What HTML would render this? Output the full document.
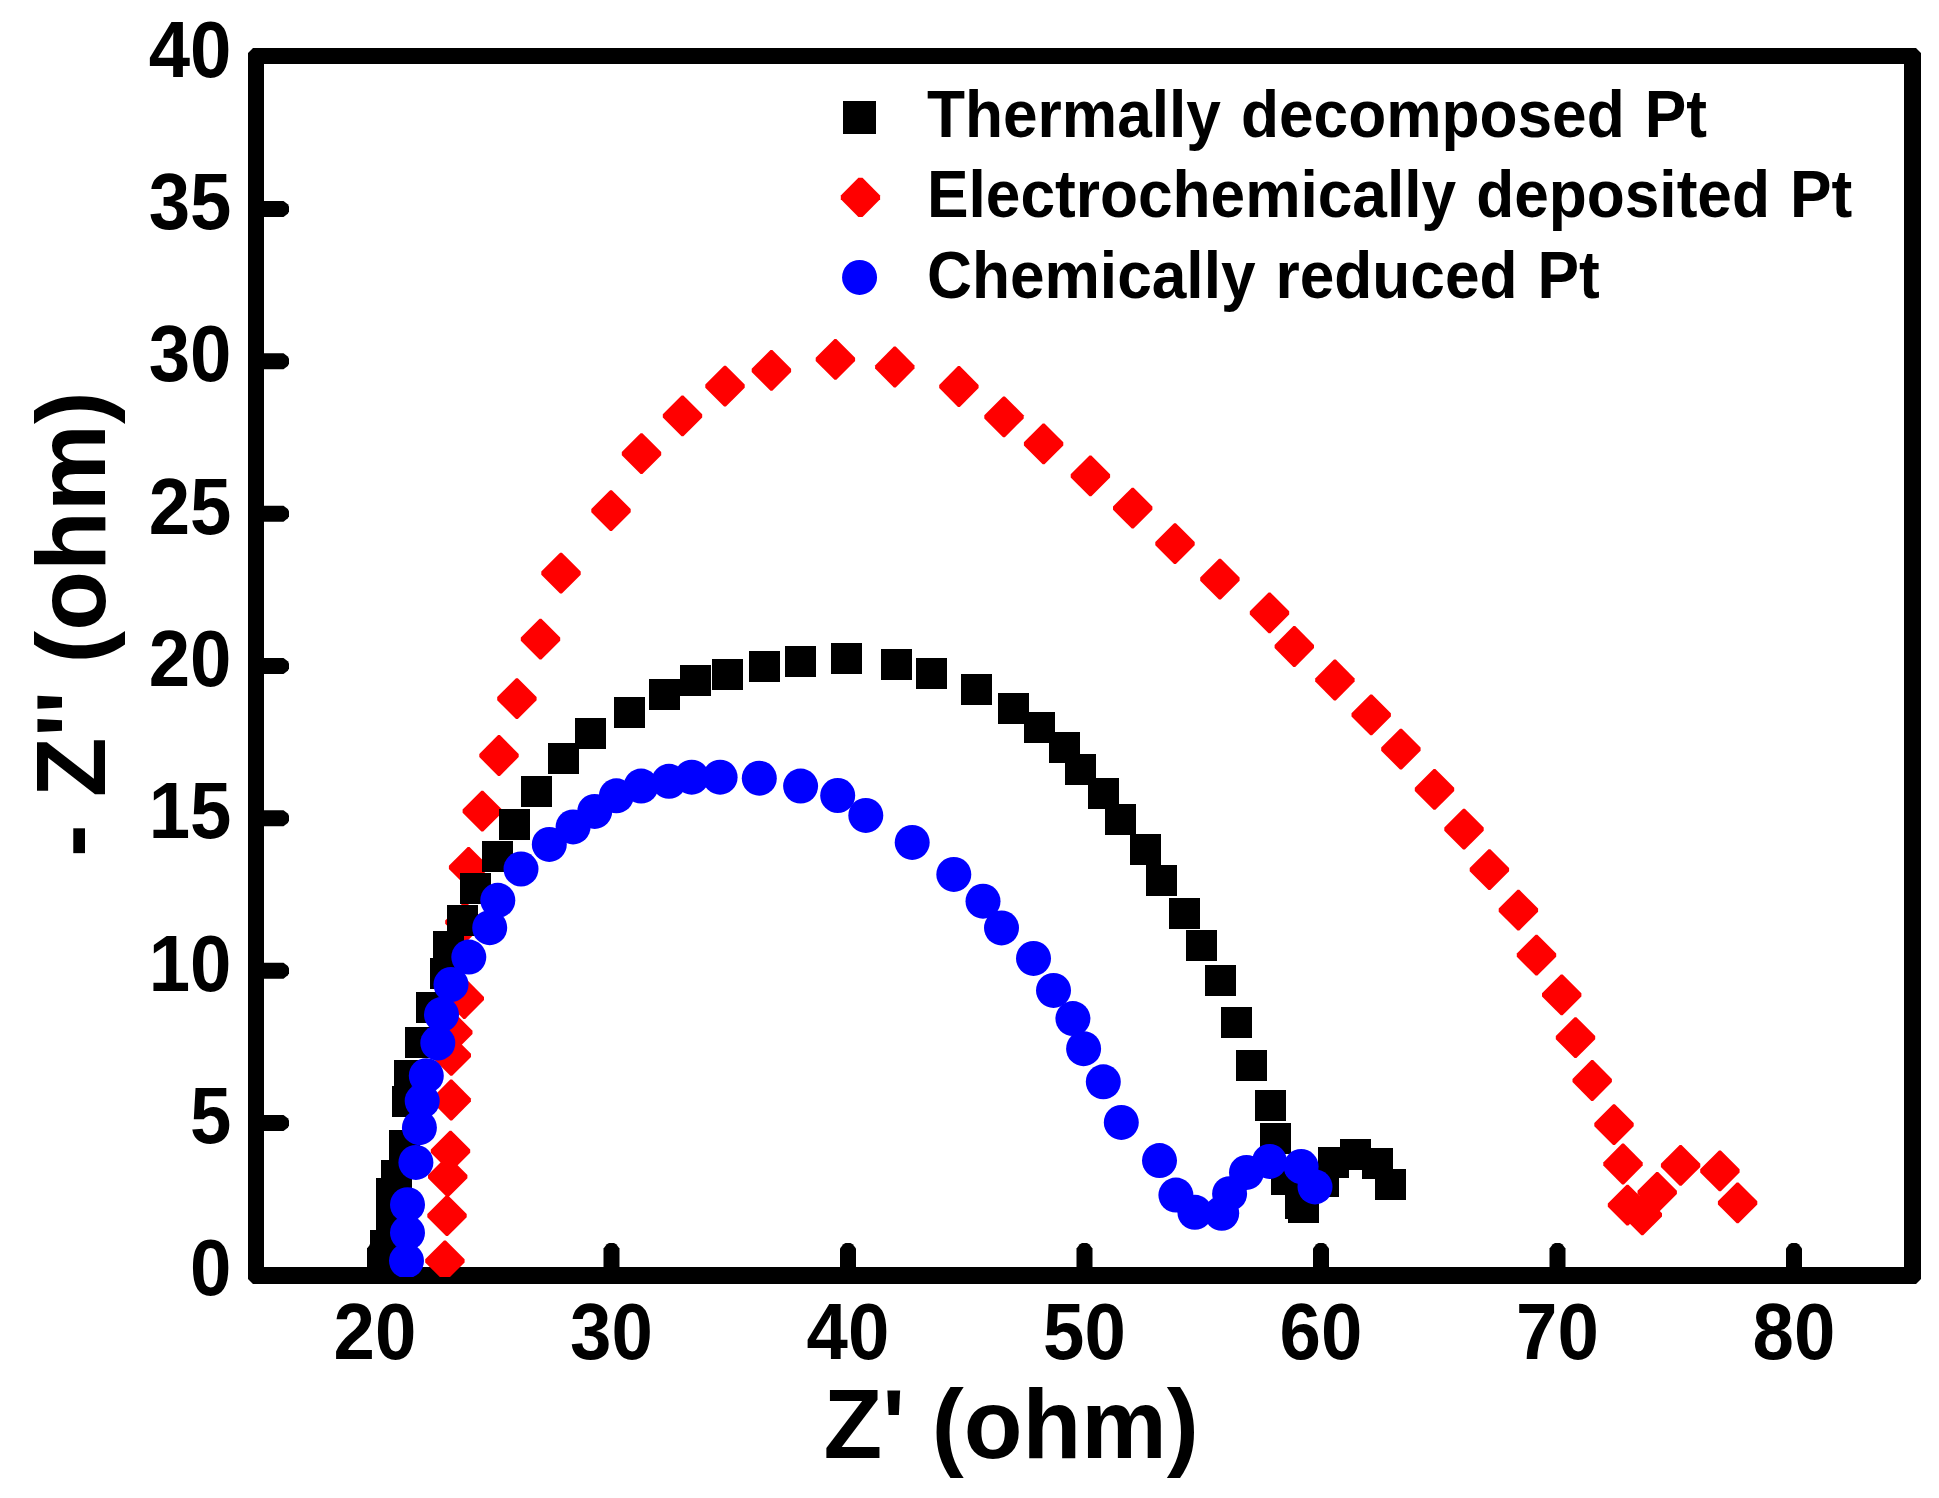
<!DOCTYPE html>
<html lang="en">
<head>
<meta charset="utf-8">
<title>Nyquist plot</title>
<style>
html,body{margin:0;padding:0;background:#fff;}
body{width:1939px;height:1498px;overflow:hidden;}
svg text{white-space:pre;}
</style>
</head>
<body>
<svg width="1939" height="1498" viewBox="0 0 1939 1498" style="display:block">
<rect x="0" y="0" width="1939" height="1498" fill="#fff"/>
<defs>
<clipPath id="plotclip"><rect x="256.0" y="56.1" width="1656.6" height="1220.9"/></clipPath>
<polygon id="dm" points="-0.90,-20.40 0.90,-20.40 19.70,-1.60 19.70,1.60 0.90,20.40 -0.90,20.40 -19.70,1.60 -19.70,-1.60"/>
<polygon id="dml" points="-2.05,-19.55 2.05,-19.55 19.65,-1.95 19.65,1.95 2.05,19.55 -2.05,19.55 -19.65,1.95 -19.65,-1.95"/>
</defs>
<path fill="#000" fill-rule="evenodd" d="M253,48 L1916,48 L1921,53 L1921,1279 L1916,1284 L253,1284 L248,1279 L248,53 Z M264,64 L264,1267 L1904,1267 L1904,64 Z"/>
<g fill="#000">
<polygon points="262,1114.99 283.5,1114.99 287.8,1118.29 289,1120.49 289,1125.49 287.8,1127.69 283.5,1130.99 262,1130.99"/>
<polygon points="262,962.66 283.5,962.66 287.8,965.96 289,968.16 289,973.16 287.8,975.36 283.5,978.66 262,978.66"/>
<polygon points="262,810.32 283.5,810.32 287.8,813.62 289,815.82 289,820.82 287.8,823.02 283.5,826.32 262,826.32"/>
<polygon points="262,657.99 283.5,657.99 287.8,661.29 289,663.49 289,668.49 287.8,670.69 283.5,673.99 262,673.99"/>
<polygon points="262,505.65 283.5,505.65 287.8,508.95 289,511.15 289,516.15 287.8,518.36 283.5,521.65 262,521.65"/>
<polygon points="262,353.32 283.5,353.32 287.8,356.62 289,358.82 289,363.82 287.8,366.02 283.5,369.32 262,369.32"/>
<polygon points="262,200.98 283.5,200.98 287.8,204.28 289,206.48 289,211.48 287.8,213.68 283.5,216.98 262,216.98"/>
<polygon points="367.00,1269 367.00,1248.5 370.30,1244.2 372.50,1243 377.50,1243 379.70,1244.2 383.00,1248.5 383.00,1269"/>
<polygon points="603.50,1269 603.50,1248.5 606.80,1244.2 609.00,1243 614.00,1243 616.20,1244.2 619.50,1248.5 619.50,1269"/>
<polygon points="840.00,1269 840.00,1248.5 843.30,1244.2 845.50,1243 850.50,1243 852.70,1244.2 856.00,1248.5 856.00,1269"/>
<polygon points="1076.50,1269 1076.50,1248.5 1079.80,1244.2 1082.00,1243 1087.00,1243 1089.20,1244.2 1092.50,1248.5 1092.50,1269"/>
<polygon points="1313.00,1269 1313.00,1248.5 1316.30,1244.2 1318.50,1243 1323.50,1243 1325.70,1244.2 1329.00,1248.5 1329.00,1269"/>
<polygon points="1549.50,1269 1549.50,1248.5 1552.80,1244.2 1555.00,1243 1560.00,1243 1562.20,1244.2 1565.50,1248.5 1565.50,1269"/>
<polygon points="1786.00,1269 1786.00,1248.5 1789.30,1244.2 1791.50,1243 1796.50,1243 1798.70,1244.2 1802.00,1248.5 1802.00,1269"/>
</g>
<g clip-path="url(#plotclip)">
<g fill="#f00">
<use href="#dm" x="444.9" y="1260.8"/>
<use href="#dm" x="447.0" y="1215.7"/>
<use href="#dm" x="447.7" y="1176.7"/>
<use href="#dm" x="450.5" y="1151.2"/>
<use href="#dm" x="451.2" y="1100.0"/>
<use href="#dm" x="451.3" y="1055.3"/>
<use href="#dm" x="452.8" y="1032.3"/>
<use href="#dm" x="464.3" y="998.5"/>
<use href="#dm" x="464.9" y="922.1"/>
<use href="#dm" x="468.6" y="867.3"/>
<use href="#dm" x="482.3" y="811.2"/>
<use href="#dm" x="499.0" y="755.5"/>
<use href="#dm" x="516.9" y="698.6"/>
<use href="#dm" x="540.5" y="639.2"/>
<use href="#dm" x="561.0" y="573.1"/>
<use href="#dm" x="611.0" y="510.6"/>
<use href="#dm" x="641.5" y="453.7"/>
<use href="#dm" x="682.5" y="415.9"/>
<use href="#dm" x="725.0" y="386.2"/>
<use href="#dm" x="771.4" y="370.3"/>
<use href="#dm" x="835.4" y="359.4"/>
<use href="#dm" x="894.8" y="367.0"/>
<use href="#dm" x="958.9" y="386.5"/>
<use href="#dm" x="1004.0" y="416.8"/>
<use href="#dm" x="1043.6" y="443.8"/>
<use href="#dm" x="1090.4" y="475.8"/>
<use href="#dm" x="1132.7" y="508.1"/>
<use href="#dm" x="1175.0" y="543.6"/>
<use href="#dm" x="1219.9" y="579.2"/>
<use href="#dm" x="1269.5" y="612.9"/>
<use href="#dm" x="1294.3" y="646.5"/>
<use href="#dm" x="1334.9" y="680.0"/>
<use href="#dm" x="1371.2" y="714.8"/>
<use href="#dm" x="1400.9" y="749.1"/>
<use href="#dm" x="1434.5" y="789.3"/>
<use href="#dm" x="1464.0" y="829.2"/>
<use href="#dm" x="1489.4" y="869.7"/>
<use href="#dm" x="1518.4" y="910.1"/>
<use href="#dm" x="1536.5" y="955.1"/>
<use href="#dm" x="1561.7" y="994.9"/>
<use href="#dm" x="1575.5" y="1037.6"/>
<use href="#dm" x="1592.2" y="1080.5"/>
<use href="#dm" x="1614.0" y="1124.6"/>
<use href="#dm" x="1623.0" y="1164.0"/>
<use href="#dm" x="1627.5" y="1205.2"/>
<use href="#dm" x="1642.3" y="1214.8"/>
<use href="#dm" x="1657.2" y="1192.4"/>
<use href="#dm" x="1680.6" y="1165.3"/>
<use href="#dm" x="1719.9" y="1170.9"/>
<use href="#dm" x="1737.6" y="1202.8"/>
</g>
<g fill="#000">
<rect x="367" y="1248" width="31" height="31"/>
<rect x="370" y="1230" width="31" height="31"/>
<rect x="376" y="1199" width="31" height="31"/>
<rect x="376" y="1178" width="31" height="31"/>
<rect x="381" y="1160" width="31" height="31"/>
<rect x="389" y="1130" width="31" height="31"/>
<rect x="392" y="1086" width="31" height="31"/>
<rect x="394" y="1060" width="31" height="31"/>
<rect x="405" y="1027" width="31" height="31"/>
<rect x="416" y="992" width="31" height="31"/>
<rect x="430" y="958" width="31" height="31"/>
<rect x="433" y="931" width="31" height="31"/>
<rect x="447" y="905" width="31" height="31"/>
<rect x="460" y="873" width="31" height="31"/>
<rect x="482" y="841" width="31" height="31"/>
<rect x="499" y="809" width="31" height="31"/>
<rect x="521" y="776" width="31" height="31"/>
<rect x="548" y="743" width="31" height="31"/>
<rect x="575" y="718" width="31" height="31"/>
<rect x="614" y="697" width="31" height="31"/>
<rect x="649" y="679" width="31" height="31"/>
<rect x="680" y="665" width="31" height="31"/>
<rect x="712" y="659" width="31" height="31"/>
<rect x="749" y="651" width="31" height="31"/>
<rect x="785" y="646" width="31" height="31"/>
<rect x="831" y="643" width="31" height="31"/>
<rect x="881" y="649" width="31" height="31"/>
<rect x="916" y="658" width="31" height="31"/>
<rect x="961" y="674" width="31" height="31"/>
<rect x="998" y="693" width="31" height="31"/>
<rect x="1024" y="712" width="31" height="31"/>
<rect x="1049" y="732" width="31" height="31"/>
<rect x="1065" y="754" width="31" height="31"/>
<rect x="1088" y="778" width="31" height="31"/>
<rect x="1105" y="804" width="31" height="31"/>
<rect x="1130" y="834" width="31" height="31"/>
<rect x="1146" y="865" width="31" height="31"/>
<rect x="1169" y="898" width="31" height="31"/>
<rect x="1186" y="930" width="31" height="31"/>
<rect x="1205" y="965" width="31" height="31"/>
<rect x="1221" y="1007" width="31" height="31"/>
<rect x="1236" y="1050" width="31" height="31"/>
<rect x="1255" y="1090" width="31" height="31"/>
<rect x="1260" y="1123" width="31" height="31"/>
<rect x="1271" y="1164" width="31" height="31"/>
<rect x="1285" y="1188" width="31" height="31"/>
<rect x="1288" y="1192" width="31" height="31"/>
<rect x="1308" y="1166" width="31" height="31"/>
<rect x="1318" y="1147" width="31" height="31"/>
<rect x="1340" y="1139" width="31" height="31"/>
<rect x="1362" y="1148" width="31" height="31"/>
<rect x="1375" y="1169" width="31" height="31"/>
</g>
<g fill="#00f">
<circle cx="406.5" cy="1260.8" r="17.5"/>
<circle cx="407.5" cy="1232.8" r="17.5"/>
<circle cx="407.5" cy="1204.7" r="17.5"/>
<circle cx="415.9" cy="1162.4" r="17.5"/>
<circle cx="419.4" cy="1127.7" r="17.5"/>
<circle cx="422.2" cy="1101.0" r="17.5"/>
<circle cx="426.3" cy="1075.7" r="17.5"/>
<circle cx="437.8" cy="1043.0" r="17.5"/>
<circle cx="441.5" cy="1014.6" r="17.5"/>
<circle cx="451.0" cy="984.5" r="17.5"/>
<circle cx="468.8" cy="957.1" r="17.5"/>
<circle cx="489.7" cy="927.7" r="17.5"/>
<circle cx="497.8" cy="900.3" r="17.5"/>
<circle cx="521.0" cy="869.0" r="17.5"/>
<circle cx="549.3" cy="844.4" r="17.5"/>
<circle cx="573.1" cy="826.9" r="17.5"/>
<circle cx="594.7" cy="811.4" r="17.5"/>
<circle cx="616.4" cy="795.8" r="17.5"/>
<circle cx="641.1" cy="786.1" r="17.5"/>
<circle cx="669.0" cy="781.3" r="17.5"/>
<circle cx="691.7" cy="777.2" r="17.5"/>
<circle cx="720.1" cy="777.2" r="17.5"/>
<circle cx="759.3" cy="778.2" r="17.5"/>
<circle cx="800.6" cy="786.1" r="17.5"/>
<circle cx="837.7" cy="795.5" r="17.5"/>
<circle cx="865.8" cy="815.4" r="17.5"/>
<circle cx="912.2" cy="842.4" r="17.5"/>
<circle cx="953.8" cy="874.4" r="17.5"/>
<circle cx="983.0" cy="901.2" r="17.5"/>
<circle cx="1001.5" cy="927.9" r="17.5"/>
<circle cx="1033.5" cy="958.4" r="17.5"/>
<circle cx="1053.5" cy="990.4" r="17.5"/>
<circle cx="1072.9" cy="1018.6" r="17.5"/>
<circle cx="1083.6" cy="1048.7" r="17.5"/>
<circle cx="1103.3" cy="1081.8" r="17.5"/>
<circle cx="1121.3" cy="1122.4" r="17.5"/>
<circle cx="1159.5" cy="1160.6" r="17.5"/>
<circle cx="1175.9" cy="1195.1" r="17.5"/>
<circle cx="1194.9" cy="1212.3" r="17.5"/>
<circle cx="1221.7" cy="1213.3" r="17.5"/>
<circle cx="1229.6" cy="1193.7" r="17.5"/>
<circle cx="1246.5" cy="1172.4" r="17.5"/>
<circle cx="1269.5" cy="1161.4" r="17.5"/>
<circle cx="1301.1" cy="1166.5" r="17.5"/>
<circle cx="1315.0" cy="1186.9" r="17.5"/>
</g>
</g>
<g style="font-family:'Liberation Sans',sans-serif;font-weight:bold;font-size:75px" fill="#000">
<text transform="translate(231.5 1295.3) scale(0.992 1.053)" text-anchor="end">0</text>
<text transform="translate(231.5 1143.0) scale(0.992 1.053)" text-anchor="end">5</text>
<text transform="translate(231.5 990.7) scale(0.992 1.053)" text-anchor="end">10</text>
<text transform="translate(231.5 838.3) scale(0.992 1.053)" text-anchor="end">15</text>
<text transform="translate(231.5 686.0) scale(0.992 1.053)" text-anchor="end">20</text>
<text transform="translate(231.5 533.7) scale(0.992 1.053)" text-anchor="end">25</text>
<text transform="translate(231.5 381.3) scale(0.992 1.053)" text-anchor="end">30</text>
<text transform="translate(231.5 229.0) scale(0.992 1.053)" text-anchor="end">35</text>
<text transform="translate(231.5 76.7) scale(0.992 1.053)" text-anchor="end">40</text>
<text transform="translate(375.0 1359) scale(0.992 1.053)" text-anchor="middle">20</text>
<text transform="translate(611.5 1359) scale(0.992 1.053)" text-anchor="middle">30</text>
<text transform="translate(848.0 1359) scale(0.992 1.053)" text-anchor="middle">40</text>
<text transform="translate(1084.5 1359) scale(0.992 1.053)" text-anchor="middle">50</text>
<text transform="translate(1321.0 1359) scale(0.992 1.053)" text-anchor="middle">60</text>
<text transform="translate(1557.5 1359) scale(0.992 1.053)" text-anchor="middle">70</text>
<text transform="translate(1794.0 1359) scale(0.992 1.053)" text-anchor="middle">80</text>
</g>
<g style="font-family:'Liberation Sans',sans-serif;font-weight:bold;font-size:97.5px" fill="#000">
<text transform="translate(823.5 1457.7) scale(0.986 1)">Z' (ohm)</text>
<text transform="translate(105.4 857) rotate(-90) scale(1.005 1)">- Z'' (ohm)</text>
</g>
<g style="font-family:'Liberation Sans',sans-serif;font-weight:bold;font-size:66px;word-spacing:2.9px" fill="#000">
<text transform="translate(927 136.6) scale(0.943 1.0)">Thermally decomposed Pt</text>
<text transform="translate(927 217.2) scale(0.943 1.0)">Electrochemically deposited Pt</text>
<text transform="translate(927 297.7) scale(0.943 1.0)">Chemically reduced Pt</text>
</g>
<rect x="843" y="101" width="33" height="33" fill="#000"/>
<use href="#dml" x="860.45" y="197.35" fill="#f00"/>
<circle cx="859.55" cy="277.4" r="17.5" fill="#00f"/>
</svg>
</body>
</html>
